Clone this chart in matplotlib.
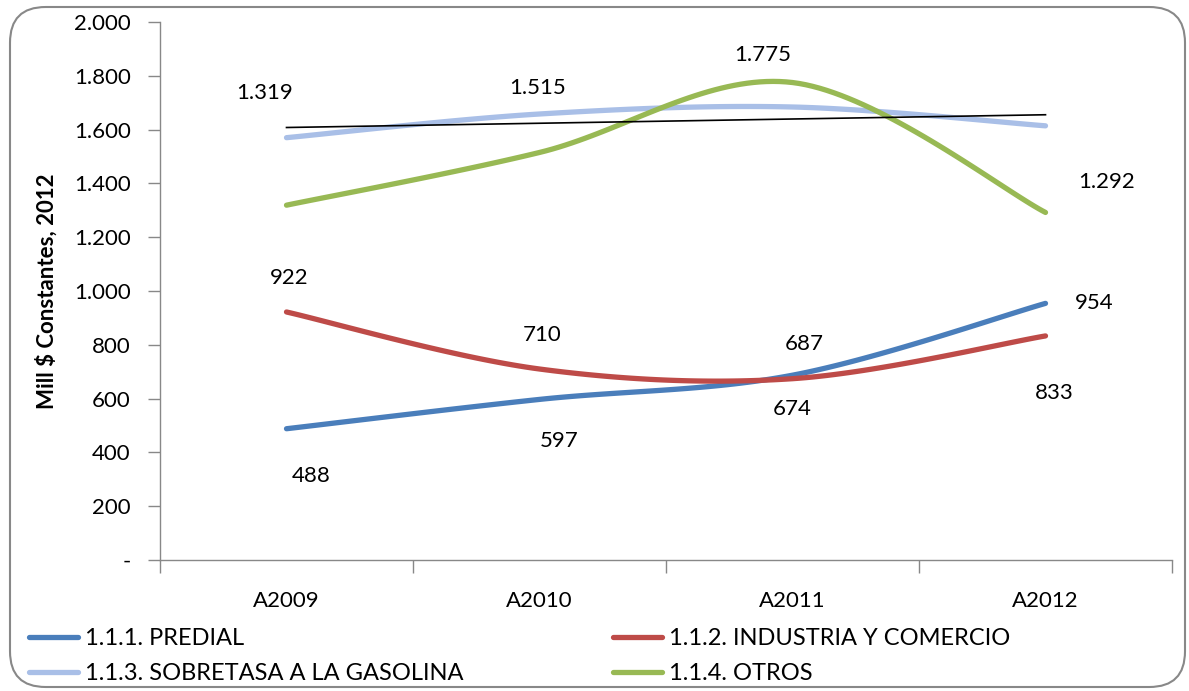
import numpy as np
import matplotlib.pyplot as plt
from matplotlib.patches import FancyBboxPatch
import matplotlib.ticker as ticker

plt.rcParams['font.family'] = ['Lato', 'DejaVu Sans']

years = ['A2009', 'A2010', 'A2011', 'A2012']
predial = [488, 597, 687, 954]
industria = [922, 710, 674, 833]
sobretasa = [1570, 1658, 1684, 1614]
otros = [1319, 1515, 1775, 1292]

names = ['1.1.1. PREDIAL', '1.1.2. INDUSTRIA Y COMERCIO',
         '1.1.3. SOBRETASA A LA GASOLINA', '1.1.4. OTROS']
colors = ['#4a7ebb', '#be4b48', '#a9bfe7', '#98b954']

# label offsets in pixels (dx, dy), per series
off_predial = [(25, -47), (20, -42), (12, 31), (49, 0)]
off_industria = [(3, 34), (3, 34), (0, -30), (9, -57)]
off_otros = [(-22, 112), (-2, 64), (-30, 28), (61, 30)]


def smooth(y, n=40):
    # excel style smoothed line (catmull-rom bezier)
    p = np.column_stack([np.arange(len(y)), np.array(y, float)])
    ext = np.vstack([p[0], p, p[-1]])
    t = np.linspace(0, 1, n)[:, None]
    out = []
    for i in range(len(p) - 1):
        P0 = ext[i + 1]
        P3 = ext[i + 2]
        P1 = P0 + (ext[i + 2] - ext[i]) / 6
        P2 = P3 - (ext[i + 3] - ext[i + 1]) / 6
        seg = (1 - t)**3 * P0 + 3 * (1 - t)**2 * t * P1 + 3 * (1 - t) * t**2 * P2 + t**3 * P3
        out.append(seg if i == 0 else seg[1:])
    out = np.vstack(out)
    return out[:, 0], out[:, 1]


fig = plt.figure(figsize=(11.89, 6.91), dpi=100)
ax = fig.add_axes([160/1189, 1-560/691, (1172-160)/1189, (560-22)/691])

lines = []
for vals, c, nm in zip([predial, industria, sobretasa, otros], colors, names):
    xs, ys = smooth(vals)
    l, = ax.plot(xs, ys, color=c, lw=3.8, solid_capstyle='round', label=nm)
    lines.append(l)

# linear trend of sobretasa
x = np.arange(len(years))
k, b = np.polyfit(x, sobretasa, 1)
ax.plot(x, k * x + b, color='black', lw=1.2)

for vals, offs in [(predial, off_predial), (industria, off_industria), (otros, off_otros)]:
    for i, v in enumerate(vals):
        txt = '{:,}'.format(v).replace(',', '.')
        ax.annotate(txt, (i, v), xytext=offs[i], textcoords='offset pixels',
                    ha='center', va='center', fontsize=16)

ax.set_xlim(-0.5, 3.5)
ax.set_ylim(0, 2000)
ax.yaxis.set_major_locator(ticker.MultipleLocator(200))
ax.yaxis.set_major_formatter(ticker.FuncFormatter(
    lambda v, p: '-' if v == 0 else '{:,.0f}'.format(v).replace(',', '.')))
ax.set_xticks(x)
ax.set_xticklabels(years)
ax.set_xticks(np.arange(-0.5, 4, 1), minor=True)
ax.tick_params(axis='x', which='major', length=0, pad=22, labelsize=16)
ax.tick_params(axis='x', which='minor', length=9, color='#888888', width=1)
ax.tick_params(axis='y', length=9, color='#888888', width=1, labelsize=16, pad=12)
for s in ['top', 'right']:
    ax.spines[s].set_visible(False)
for s in ['left', 'bottom']:
    ax.spines[s].set_color('#888888')
    ax.spines[s].set_linewidth(1)
ax.set_ylabel('Mill $ Constantes, 2012', fontsize=16, fontweight='bold', labelpad=12)

# row-wise order like excel
order = [0, 2, 1, 3]
leg = fig.legend(handles=[lines[i] for i in order], loc='upper left',
                 bbox_to_anchor=(17/1189, 1-616/691),
                 ncol=2, frameon=False, fontsize=17, handlelength=2.1,
                 handletextpad=0.3, columnspacing=6.3, labelspacing=0.6,
                 borderpad=0)

box = FancyBboxPatch((10/1189, 4/691), 1175/1189, 680/691,
                     boxstyle='round,pad=0,rounding_size=0.03',
                     transform=fig.transFigure, fill=False,
                     edgecolor='#888888', lw=1.5, mutation_aspect=1189/691)
fig.patches.append(box)

fig.savefig('out.png', dpi=100)
